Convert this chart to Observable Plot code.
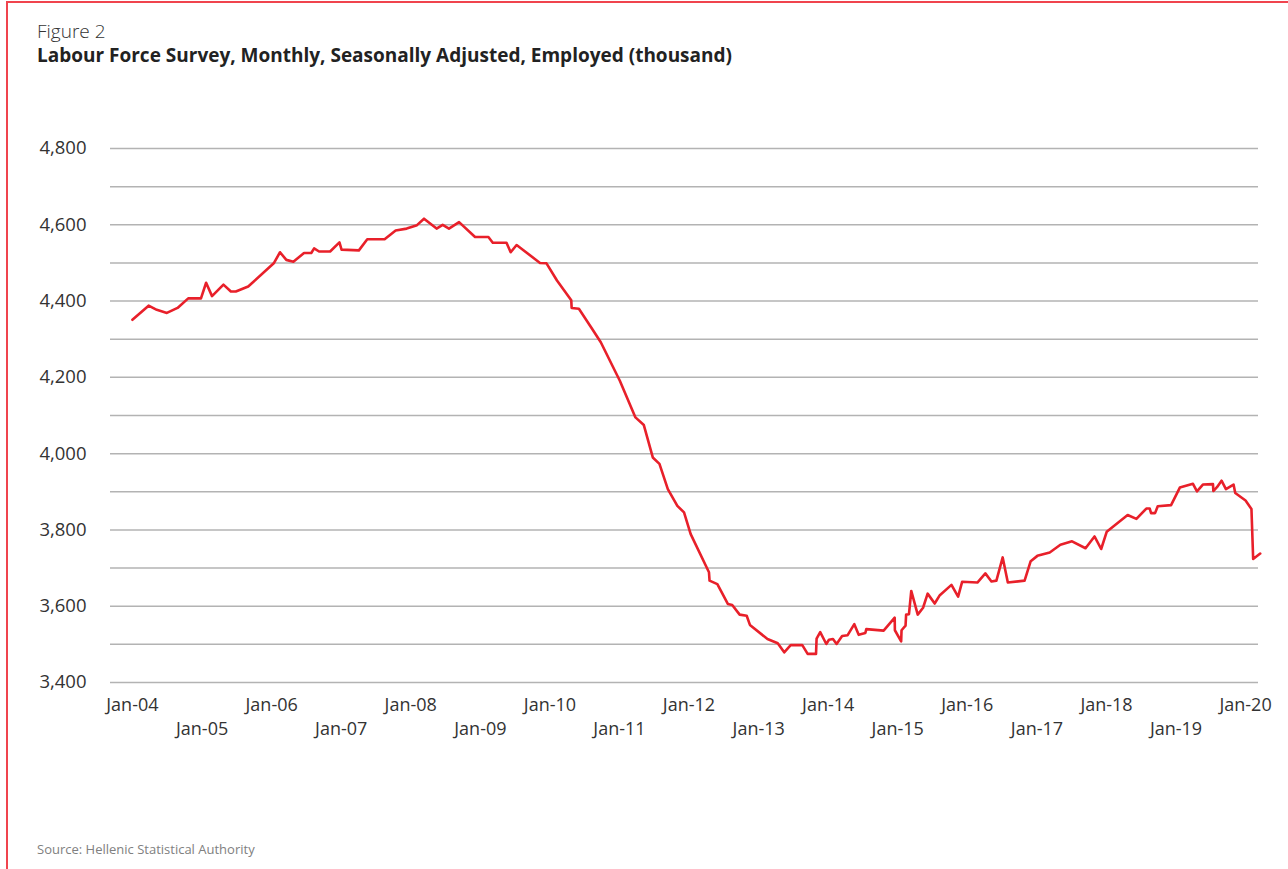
<!DOCTYPE html>
<html>
<head>
<meta charset="utf-8">
<script src="https://cdn.jsdelivr.net/npm/d3@7"></script>
<script src="https://cdn.jsdelivr.net/npm/@observablehq/plot@0.6"></script>
<style>
  html, body { margin: 0; padding: 0; background: #ffffff; }
  body { width: 1288px; height: 869px; position: relative; overflow: hidden; font-family: "Open Sans", "Noto Sans", sans-serif; }
  #frame { position: absolute; left: 6px; top: 1px; right: -10px; bottom: -10px; border-top: 2px solid #f0444e; border-left: 2px solid #f0444e; }
  #fig { position: absolute; left: 37px; top: 18px; font-size: 19px; color: #333; font-weight: 300; }
  #title { position: absolute; left: 37px; top: 42px; font-size: 19px; color: #222; font-weight: 700; }
  #chart { position: absolute; left: 0; top: 120px; }
  #source { position: absolute; left: 37px; top: 840px; font-size: 13px; color: #808080; }
</style>
</head>
<body>
<div id="frame"></div>
<div id="fig">Figure 2</div>
<div id="title">Labour Force Survey, Monthly, Seasonally Adjusted, Employed (thousand)</div>
<div id="chart"></div>
<div id="source">Source: Hellenic Statistical Authority</div>
<script>
const dates = [
  "2004-01-01","2004-03-26","2004-05-08","2004-06-30","2004-08-25","2004-10-20","2004-12-26",
  "2005-01-22","2005-02-22","2005-04-23","2005-06-01","2005-06-27","2005-08-31",
  "2006-01-12","2006-02-14","2006-03-19","2006-04-25","2006-06-20","2006-07-28","2006-08-12","2006-09-07","2006-11-04","2006-12-23",
  "2007-01-03","2007-04-04","2007-05-18","2007-08-17","2007-10-14","2007-12-11",
  "2008-02-03","2008-03-11","2008-05-16","2008-06-17","2008-07-20","2008-09-11","2008-12-04",
  "2009-02-12","2009-03-07","2009-05-18","2009-06-09","2009-07-10","2009-11-10","2009-12-14",
  "2010-02-07","2010-04-23","2010-04-25","2010-06-02","2010-08-11","2010-09-25",
  "2011-01-03","2011-03-26","2011-05-09","2011-06-25","2011-07-30","2011-09-12","2011-11-01","2011-12-06",
  "2012-01-10","2012-04-15","2012-04-18","2012-05-29","2012-07-23","2012-08-15","2012-09-23","2012-10-30","2012-11-16",
  "2013-02-16","2013-04-11","2013-05-15","2013-06-18","2013-08-18","2013-09-15","2013-10-29","2013-11-01","2013-11-20","2013-12-22",
  "2014-01-05","2014-01-26","2014-02-14","2014-03-15","2014-04-13","2014-05-18","2014-06-10","2014-07-15","2014-07-20","2014-10-19","2014-12-16","2014-12-17",
  "2015-01-19","2015-01-21","2015-02-11","2015-02-14","2015-03-01","2015-03-13","2015-04-16","2015-05-14","2015-06-07","2015-07-14","2015-08-10","2015-10-10","2015-11-14","2015-12-05",
  "2016-02-23","2016-04-05","2016-05-07","2016-06-02","2016-07-05","2016-08-01","2016-10-28","2016-11-29",
  "2017-01-03","2017-03-09","2017-05-04","2017-07-04","2017-09-13","2017-10-30","2017-12-04",
  "2018-01-02","2018-04-22","2018-06-07","2018-07-29","2018-08-16","2018-08-23","2018-09-13","2018-09-27","2018-12-06",
  "2019-01-21","2019-03-31","2019-04-21","2019-05-22","2019-07-14","2019-07-16","2019-08-04","2019-08-28","2019-09-20","2019-10-30","2019-11-08",
  "2020-01-01","2020-02-01","2020-02-10","2020-03-18"
];
// Employed (thousand)
const employed = [
  4351,4388,4377,4369,4382,4407,4407,
  4448,4413,4443,4425,4425,4438,
  4499,4528,4508,4503,4526,4526,4538,4530,4530,4554,
  4535,4533,4562,4562,4585,4590,
  4599,4616,4590,4600,4590,4607,4568,
  4568,4553,4553,4528,4547,4500,4499,
  4454,4402,4382,4380,4327,4292,
  4191,4095,4075,3990,3973,3907,3863,3846,
  3789,3689,3667,3658,3606,3603,3578,3575,3551,
  3514,3503,3479,3498,3498,3475,3475,3515,3532,3501,
  3512,3514,3501,3522,3524,3553,3525,3530,3540,3536,3570,3537,
  3508,3537,3549,3578,3579,3640,3578,3596,3633,3607,3629,3656,3625,3664,
  3662,3686,3665,3667,3728,3662,3667,3718,
  3732,3741,3761,3770,3752,3783,3750,
  3795,3839,3829,3856,3856,3844,3844,3862,3865,
  3911,3921,3901,3919,3920,3902,3912,3929,3907,3919,3897,
  3877,3855,3724,3738
];
const yearTicks = d3.range(2004, 2021);
const yLabelTicks = [3400, 3600, 3800, 4000, 4200, 4400, 4600, 4800];
const yGridTicks = [3400, 3500, 3600, 3700, 3800, 3900, 4000, 4100, 4200, 4300, 4400, 4500, 4600, 4700, 4800];

const data = dates.map((d, i) => ({date: new Date(d), value: employed[i]}));
const evenTicks = yearTicks.filter(y => y % 2 === 0).map(y => new Date(Date.UTC(y, 0, 1)));
const oddTicks = yearTicks.filter(y => y % 2 === 1).map(y => new Date(Date.UTC(y, 0, 1)));
const fmtX = d3.utcFormat("%b-%y");

const chart = Plot.plot({
  width: 1288,
  height: 620,
  marginLeft: 110,
  marginRight: 30,
  marginTop: 28,
  marginBottom: 58,
  style: {fontFamily: "'Open Sans', 'Noto Sans', sans-serif", fontSize: "18px", color: "#333", background: "transparent", overflow: "visible"},
  x: {type: "utc", domain: [new Date("2003-09-08"), new Date("2020-03-09")]},
  y: {domain: [3400, 4800]},
  marks: [
    Plot.gridY(yGridTicks, {stroke: "#b3b3b3", strokeOpacity: 1, strokeWidth: 1.5}),
    Plot.axisY(yLabelTicks, {tickSize: 0, tickPadding: 24, tickFormat: d3.format(","), label: null, fontSize: 18.5}),
    Plot.axisX(evenTicks, {tickSize: 0, tickPadding: 16, tickFormat: fmtX, label: null, fontSize: 18}),
    Plot.axisX(oddTicks, {tickSize: 0, tickPadding: 40, tickFormat: fmtX, label: null, fontSize: 18}),
    Plot.line(data, {x: "date", y: "value", stroke: "#e8202a", strokeWidth: 2.6})
  ]
});
document.getElementById("chart").appendChild(chart);
</script>
</body>
</html>
